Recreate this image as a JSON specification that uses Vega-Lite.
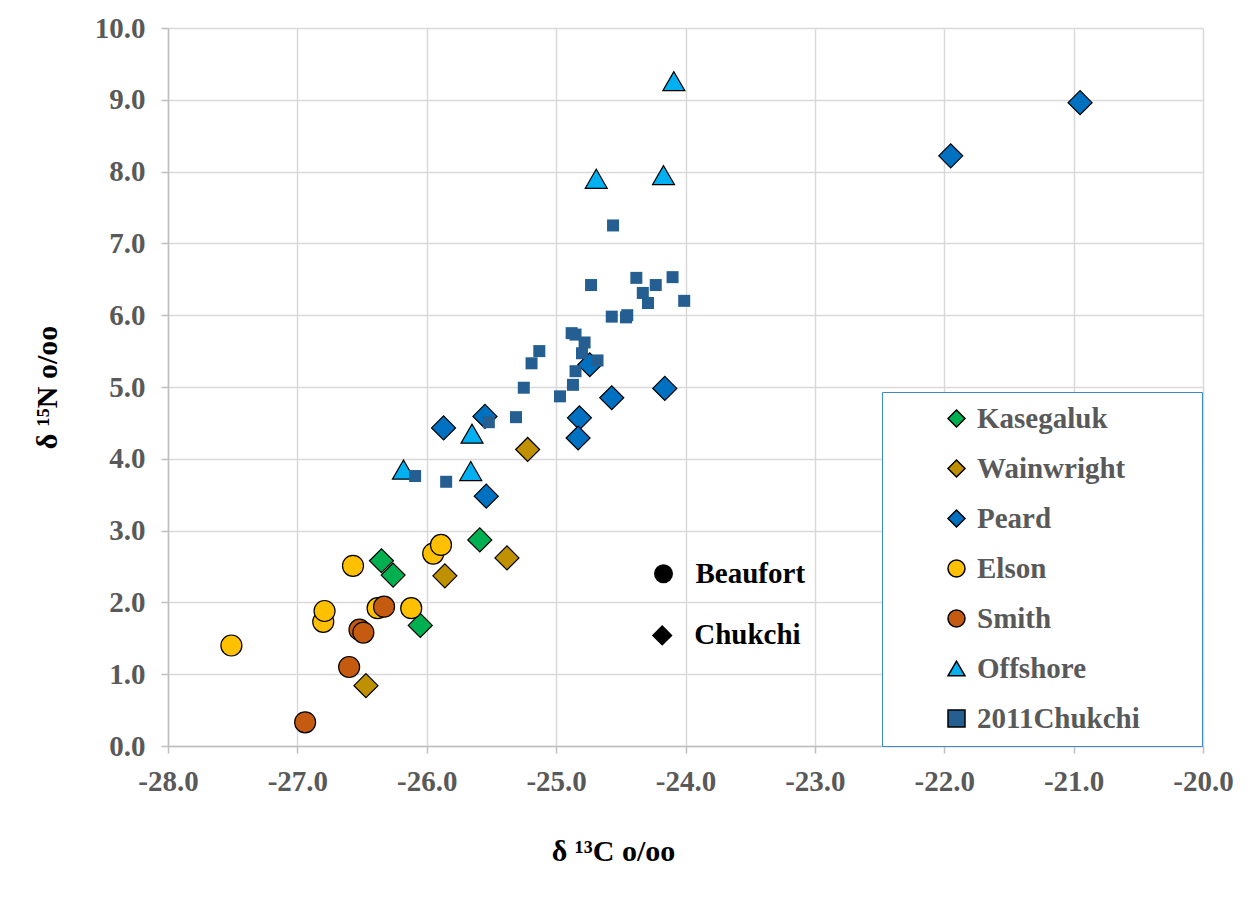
{
  "$schema": "https://vega.github.io/schema/vega-lite/v6.json",
  "width": 1035,
  "height": 718,
  "autosize": "none",
  "padding": {"left": 168, "top": 28, "right": 50, "bottom": 163},
  "background": "white",
  "config": {"font": "Liberation Serif", "view": {"stroke": null}},
  "datasets": {
    "samples": [
      {"site": "Kasegaluk", "d13C": -26.35, "d15N": 2.58},
      {"site": "Kasegaluk", "d13C": -26.26, "d15N": 2.38},
      {"site": "Kasegaluk", "d13C": -26.05, "d15N": 1.68},
      {"site": "Kasegaluk", "d13C": -25.59, "d15N": 2.87},
      {"site": "Wainwright", "d13C": -25.86, "d15N": 2.37},
      {"site": "Wainwright", "d13C": -26.47, "d15N": 0.84},
      {"site": "Wainwright", "d13C": -25.38, "d15N": 2.62},
      {"site": "Wainwright", "d13C": -25.22, "d15N": 4.13},
      {"site": "Peard", "d13C": -24.74, "d15N": 5.31},
      {"site": "Peard", "d13C": -24.16, "d15N": 4.98},
      {"site": "Peard", "d13C": -24.57, "d15N": 4.85},
      {"site": "Peard", "d13C": -24.82, "d15N": 4.57},
      {"site": "Peard", "d13C": -24.83, "d15N": 4.29},
      {"site": "Peard", "d13C": -25.55, "d15N": 4.59},
      {"site": "Peard", "d13C": -25.87, "d15N": 4.43},
      {"site": "Peard", "d13C": -25.54, "d15N": 3.48},
      {"site": "Peard", "d13C": -21.95, "d15N": 8.22},
      {"site": "Peard", "d13C": -20.95, "d15N": 8.96},
      {"site": "Elson", "d13C": -27.51, "d15N": 1.40},
      {"site": "Elson", "d13C": -26.57, "d15N": 2.51},
      {"site": "Elson", "d13C": -26.80, "d15N": 1.73},
      {"site": "Elson", "d13C": -26.79, "d15N": 1.88},
      {"site": "Elson", "d13C": -26.38, "d15N": 1.92},
      {"site": "Elson", "d13C": -26.12, "d15N": 1.92},
      {"site": "Elson", "d13C": -25.95, "d15N": 2.68},
      {"site": "Elson", "d13C": -25.89, "d15N": 2.80},
      {"site": "Smith", "d13C": -26.33, "d15N": 1.94},
      {"site": "Smith", "d13C": -26.52, "d15N": 1.62},
      {"site": "Smith", "d13C": -26.49, "d15N": 1.58},
      {"site": "Smith", "d13C": -26.60, "d15N": 1.10},
      {"site": "Smith", "d13C": -26.94, "d15N": 0.33},
      {"site": "Offshore", "d13C": -25.65, "d15N": 4.35},
      {"site": "Offshore", "d13C": -25.66, "d15N": 3.83},
      {"site": "Offshore", "d13C": -26.18, "d15N": 3.85},
      {"site": "Offshore", "d13C": -24.09, "d15N": 9.26},
      {"site": "Offshore", "d13C": -24.69, "d15N": 7.90},
      {"site": "Offshore", "d13C": -24.17, "d15N": 7.95},
      {"site": "2011Chukchi", "d13C": -24.56, "d15N": 7.25},
      {"site": "2011Chukchi", "d13C": -24.38, "d15N": 6.52},
      {"site": "2011Chukchi", "d13C": -24.10, "d15N": 6.53},
      {"site": "2011Chukchi", "d13C": -24.23, "d15N": 6.42},
      {"site": "2011Chukchi", "d13C": -24.73, "d15N": 6.42},
      {"site": "2011Chukchi", "d13C": -24.33, "d15N": 6.31},
      {"site": "2011Chukchi", "d13C": -24.29, "d15N": 6.17},
      {"site": "2011Chukchi", "d13C": -24.01, "d15N": 6.20},
      {"site": "2011Chukchi", "d13C": -24.57, "d15N": 5.98},
      {"site": "2011Chukchi", "d13C": -24.46, "d15N": 5.97},
      {"site": "2011Chukchi", "d13C": -24.45, "d15N": 6.00},
      {"site": "2011Chukchi", "d13C": -24.88, "d15N": 5.75},
      {"site": "2011Chukchi", "d13C": -24.85, "d15N": 5.73},
      {"site": "2011Chukchi", "d13C": -24.78, "d15N": 5.62},
      {"site": "2011Chukchi", "d13C": -24.80, "d15N": 5.47},
      {"site": "2011Chukchi", "d13C": -24.68, "d15N": 5.37},
      {"site": "2011Chukchi", "d13C": -25.13, "d15N": 5.50},
      {"site": "2011Chukchi", "d13C": -25.19, "d15N": 5.33},
      {"site": "2011Chukchi", "d13C": -24.85, "d15N": 5.22},
      {"site": "2011Chukchi", "d13C": -25.25, "d15N": 4.99},
      {"site": "2011Chukchi", "d13C": -24.87, "d15N": 5.03},
      {"site": "2011Chukchi", "d13C": -24.97, "d15N": 4.87},
      {"site": "2011Chukchi", "d13C": -25.31, "d15N": 4.58},
      {"site": "2011Chukchi", "d13C": -25.52, "d15N": 4.51},
      {"site": "2011Chukchi", "d13C": -26.09, "d15N": 3.76},
      {"site": "2011Chukchi", "d13C": -25.85, "d15N": 3.68}
    ],
    "notes": [
      {"label": "Beaufort", "d13C": -24.17, "d15N": 2.40},
      {"label": "Chukchi", "d13C": -24.18, "d15N": 1.54}
    ]
  },
  "layer": [
    {
      "data": {"name": "samples"},
      "mark": {"type": "point", "filled": true, "opacity": 1, "strokeWidth": 1.2},
      "encoding": {
        "x": {
          "field": "d13C", "type": "quantitative",
          "scale": {"domain": [-28, -20], "nice": false, "zero": false},
          "axis": {
            "values": [-28, -27, -26, -25, -24, -23, -22, -21, -20],
            "labelExpr": "replace(format(datum.value, '.1f'), '\u2212', '-')",
            "labelFlush": false,
            "grid": true, "gridColor": "#D9D9D9", "gridWidth": 1.5,
            "domainColor": "#BFBFBF", "domainWidth": 1.5,
            "tickColor": "#BFBFBF", "tickWidth": 1.5, "tickSize": 7,
            "labelFont": "Liberation Serif", "labelFontSize": 29, "labelFontWeight": "bold", "labelColor": "#595959", "labelPadding": 14,
            "title": "δ ¹³C o/oo", "titleFont": "Liberation Serif", "titleFontSize": 30, "titleFontWeight": "bold", "titleColor": "black",
            "titleX": 445, "titleY": 114, "titleBaseline": "alphabetic", "titleAlign": "center"
          }
        },
        "y": {
          "field": "d15N", "type": "quantitative",
          "scale": {"domain": [0, 10], "nice": false, "zero": false},
          "axis": {
            "values": [0, 1, 2, 3, 4, 5, 6, 7, 8, 9, 10],
            "format": ".1f",
            "labelFlush": false,
            "grid": true, "gridColor": "#D9D9D9", "gridWidth": 1.5,
            "domainColor": "#BFBFBF", "domainWidth": 1.5,
            "tickColor": "#BFBFBF", "tickWidth": 1.5, "tickSize": 7,
            "labelFont": "Liberation Serif", "labelFontSize": 29, "labelFontWeight": "bold", "labelColor": "#595959", "labelPadding": 16,
            "title": "δ ¹⁵N o/oo", "titleFont": "Liberation Serif", "titleFontSize": 30, "titleFontWeight": "bold", "titleColor": "black",
            "titleX": -112, "titleY": 359, "titleAngle": 270, "titleBaseline": "alphabetic", "titleAlign": "center"
          }
        },
        "color": {
          "field": "site", "type": "nominal",
          "scale": {
            "domain": ["Kasegaluk", "Wainwright", "Peard", "Elson", "Smith", "Offshore", "2011Chukchi"],
            "range": ["#00B050", "#BF9000", "#0070C0", "#FFC000", "#C55A11", "#00B0F0", "#255E91"]
          },
          "legend": {
            "title": "\u00a0", "titleOrient": "right", "titlePadding": 50, "titleFontSize": 29,
            "orient": "none", "legendX": 714, "legendY": 364,
            "padding": 12, "symbolOffset": 48, "rowPadding": 20, "labelOffset": 6, "labelLimit": 400,
            "strokeColor": "#3C8ACD", "fillColor": "white",
            "labelFont": "Liberation Serif", "labelFontSize": 29, "labelFontWeight": "bold", "labelColor": "#595959",
            "symbolSize": 289,
            "encode": {
              "legend": {"update": {"strokeWidth": {"value": 1.5}}},
              "symbols": {
                "update": {
                  "size": {"signal": "datum.value === '2011Chukchi' ? 144 : 289"},
                  "stroke": {"signal": "datum.value === '2011Chukchi' ? 'transparent' : 'black'"},
                  "strokeWidth": {"value": 1.2},
                  "opacity": {"value": 1}
                }
              }
            }
          }
        },
        "shape": {
          "field": "site", "type": "nominal",
          "scale": {
            "domain": ["Kasegaluk", "Wainwright", "Peard", "Elson", "Smith", "Offshore", "2011Chukchi"],
            "range": ["diamond", "diamond", "diamond", "circle", "circle", "triangle-up", "square"]
          }
        },
        "stroke": {"condition": {"test": "datum.site === '2011Chukchi'", "value": "transparent"}, "value": "black"},
        "size": {
          "condition": [
            {"test": "datum.site === '2011Chukchi'", "value": 144},
            {"test": "datum.site === 'Elson' || datum.site === 'Smith'", "value": 441},
            {"test": "datum.site === 'Offshore'", "value": 484}
          ],
          "value": 576
        }
      }
    },
    {
      "data": {"name": "notes"},
      "transform": [{"filter": "datum.label === 'Beaufort'"}],
      "mark": {"type": "point", "shape": "circle", "filled": true, "color": "black", "opacity": 1, "size": 361},
      "encoding": {
        "x": {"field": "d13C", "type": "quantitative"},
        "y": {"field": "d15N", "type": "quantitative"}
      }
    },
    {
      "data": {"name": "notes"},
      "transform": [{"filter": "datum.label === 'Chukchi'"}],
      "mark": {"type": "point", "shape": "diamond", "filled": true, "color": "black", "opacity": 1, "size": 430},
      "encoding": {
        "x": {"field": "d13C", "type": "quantitative"},
        "y": {"field": "d15N", "type": "quantitative"}
      }
    },
    {
      "data": {"name": "notes"},
      "mark": {"type": "text", "align": "left", "baseline": "middle", "dx": 32, "font": "Liberation Serif", "fontSize": 29, "fontWeight": "bold", "color": "black"},
      "encoding": {
        "x": {"field": "d13C", "type": "quantitative"},
        "y": {"field": "d15N", "type": "quantitative"},
        "text": {"field": "label"}
      }
    }
  ]
}
